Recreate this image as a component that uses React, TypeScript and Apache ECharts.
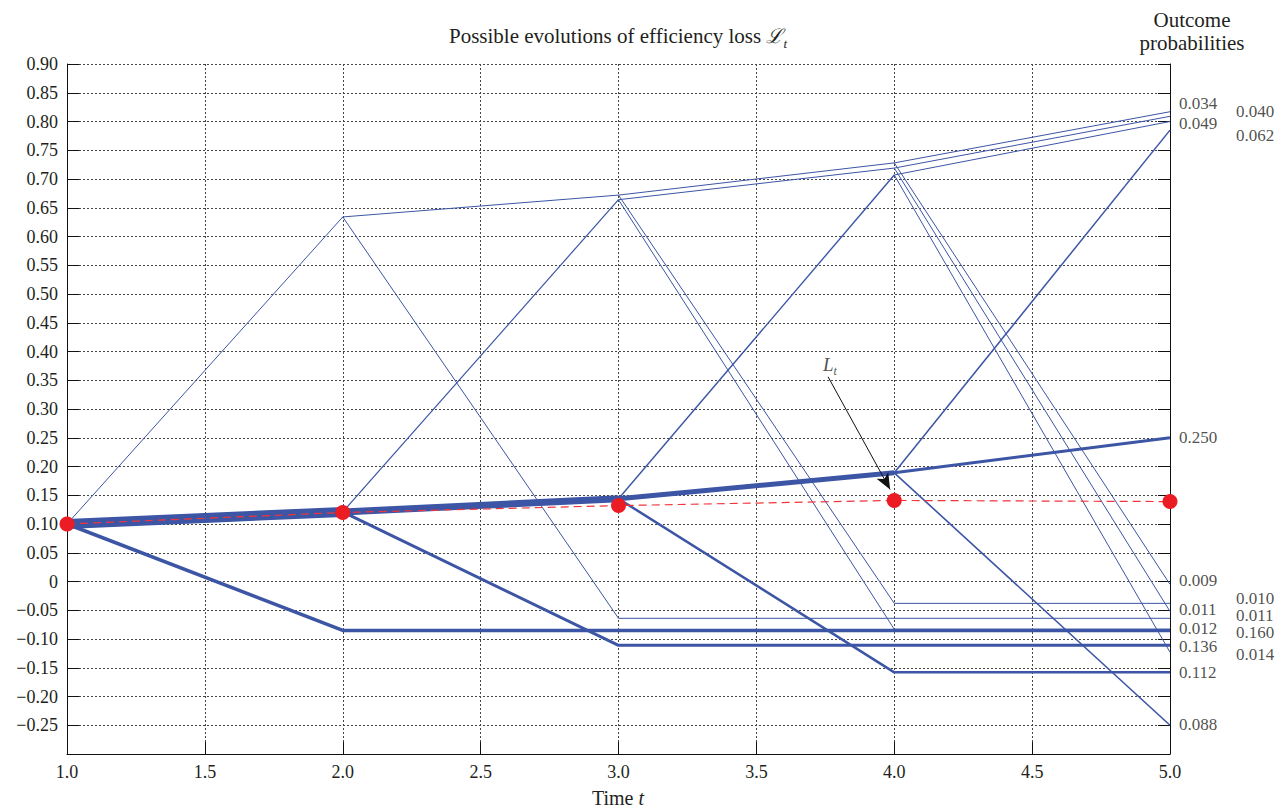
import React, { useEffect, useRef } from 'react';
import * as echarts from 'echarts';

// ---------- data ----------
const times = [1, 2, 3, 4, 5];
// central (most likely) path of the efficiency loss, t = 1..5
const midPath = [0.100, 0.121, 0.144, 0.189, 0.250];
// high nodes reached at each time (index = t-1); last one is the fresh jump from the central path
const highNodes: number[][] = [[], [0.634], [0.672, 0.664], [0.728, 0.719, 0.707], [0.817, 0.809, 0.800, 0.785]];
// values after a crash from the high nodes of the previous step (index = t-1), then flat
const crashNodes: number[][] = [[], [], [-0.064], [-0.038, -0.083], [-0.005, -0.052, -0.123]];
// values after a drop from the central path, t = 2..5, then flat
const downNodes = [-0.085, -0.111, -0.158, -0.250];
// expected efficiency loss L_t
const expectedLoss = [0.100, 0.120, 0.132, 0.141, 0.139];
// outcome probabilities (labels at t = 5)
const probLabelsLeft = ['0.034', '0.049', '0.250', '0.009', '0.011', '0.012', '0.136', '0.112', '0.088'];
const probLabelYLeft = [0.832, 0.797, 0.250, 0.002, -0.049, -0.081, -0.113, -0.158, -0.248];
const probLabelsRight = ['0.040', '0.062', '0.010', '0.011', '0.160', '0.014'];
const probLabelYRight = [0.817, 0.775, -0.029, -0.059, -0.089, -0.127];

// ---------- styles ----------
const BLUE = '#3c55a5';
const TEXT = '#231f20';
const FONT = 'Liberation Serif';
const midWidths = [10, 7, 5, 3];
const downWidths = [3.5, 3, 2.5, 1.6];
const upWidths = [1, 1.2, 1.4, 1.5];

function lineSeries(data: number[][], width: number) {
  return {
    type: 'line',
    data,
    symbol: 'none',
    silent: true,
    lineStyle: { color: BLUE, width, cap: 'butt', join: 'bevel' },
    z: 2,
  };
}

function buildTree() {
  const series: any[] = [];
  for (let k = 1; k < times.length; k++) {
    const t0 = times[k - 1];
    const t1 = times[k];
    const last = times[times.length - 1];
    // ridges continuing up + crashes
    highNodes[k - 1].forEach((h, i) => {
      series.push(lineSeries([[t0, h], [t1, highNodes[k][i]]], 1));
      const c = crashNodes[k][i];
      const pts = [[t0, h], [t1, c]];
      if (t1 < last) pts.push([last, c]);
      series.push(lineSeries(pts, 1));
    });
    // jump up from central path
    const hk = highNodes[k];
    series.push(lineSeries([[t0, midPath[k - 1]], [t1, hk[hk.length - 1]]], upWidths[k - 1]));
    // drop from central path
    const d = downNodes[k - 1];
    const dp = [[t0, midPath[k - 1]], [t1, d]];
    if (t1 < last) dp.push([last, d]);
    series.push(lineSeries(dp, downWidths[k - 1]));
    // central path
    series.push(lineSeries([[t0, midPath[k - 1]], [t1, midPath[k]]], midWidths[k - 1]));
  }
  return series;
}

function probSeries(labels: string[], ys: number[], distance: number) {
  return {
    type: 'scatter',
    silent: true,
    symbolSize: 0,
    data: ys.map((y, i) => ({ value: [5, y], label: { formatter: labels[i] } })),
    label: {
      show: true,
      position: 'right',
      distance,
      color: TEXT,
      fontFamily: FONT,
      fontSize: 17,
      lineHeight: 14,
    },
    z: 5,
  };
}

export default function App() {
  const ref = useRef<HTMLDivElement>(null);
  useEffect(() => {
    if (!ref.current) return;
    const chart = echarts.init(ref.current, undefined, { renderer: 'svg' });
    const axisCommon = {
      type: 'value',
      axisLine: { show: true, onZero: false, lineStyle: { color: '#111', width: 1 } },
      axisTick: { show: true, inside: true, length: 12, lineStyle: { color: '#111', width: 1 } },
    };
    chart.setOption({
      animation: false,
      backgroundColor: '#ffffff',
      grid: { left: 67, right: 118, top: 64, bottom: 55 },
      xAxis: {
        ...axisCommon,
        min: 1,
        max: 5,
        interval: 0.5,
        axisLabel: {
          color: TEXT,
          fontFamily: FONT,
          fontSize: 18,
          margin: 9,
          formatter: (v: number) => v.toFixed(1),
        },
        splitLine: { show: true, lineStyle: { color: '#444', width: 1, type: [2, 2] } },
      },
      yAxis: [
        {
          ...axisCommon,
          min: -0.3,
          max: 0.9,
          interval: 0.05,
          axisLabel: {
            color: TEXT,
            fontFamily: FONT,
            fontSize: 18,
            margin: 9,
            showMinLabel: false,
            formatter: (v: number) => {
              if (Math.abs(v) < 1e-9) return '0';
              const s = Math.abs(v).toFixed(2);
              return v < 0 ? '\u2212' + s : s;
            },
          },
          splitLine: { show: true, lineStyle: { color: '#444', width: 1, type: [2, 2] } },
        },
        {
          ...axisCommon,
          position: 'right',
          min: -0.3,
          max: 0.9,
          interval: 0.05,
          axisLabel: { show: false },
          splitLine: { show: false },
        },
      ],
      graphic: [
        {
          type: 'text',
          x: 618,
          y: 36,
          style: {
            text: '{a|Possible evolutions of efficiency loss }{b|ℒ}{c|t}',
            align: 'center',
            verticalAlign: 'middle',
            fill: TEXT,
            rich: {
              a: { fontFamily: FONT, fontSize: 21, lineHeight: 28, fill: TEXT },
              b: { fontFamily: 'DejaVu Serif', fontStyle: 'italic', fontSize: 20, lineHeight: 28, fill: TEXT },
              c: { fontFamily: FONT, fontStyle: 'italic', fontSize: 13, lineHeight: 13, verticalAlign: 'bottom', fill: TEXT },
            },
          },
        },
        {
          type: 'text',
          x: 1192,
          y: 31,
          style: {
            text: 'Outcome\nprobabilities',
            align: 'center',
            verticalAlign: 'middle',
            fill: TEXT,
            fontFamily: FONT,
            fontSize: 21,
            lineHeight: 23,
          },
        },
        {
          type: 'text',
          x: 618,
          y: 798,
          style: {
            text: '{a|Time }{b|t}',
            align: 'center',
            verticalAlign: 'middle',
            rich: {
              a: { fontFamily: FONT, fontSize: 20, fill: TEXT },
              b: { fontFamily: FONT, fontStyle: 'italic', fontSize: 20, fill: TEXT },
            },
          },
        },
      ],
      series: [
        ...buildTree(),
        probSeries(probLabelsLeft, probLabelYLeft, 9),
        probSeries(probLabelsRight, probLabelYRight, 66),
        {
          type: 'scatter',
          silent: true,
          symbolSize: 0,
          data: [[3.767, 0.377]],
          label: {
            show: true,
            position: 'inside',
            formatter: '{L|L}{t|t}',
            rich: {
              L: { fontFamily: FONT, fontStyle: 'italic', fontSize: 19, lineHeight: 24, color: TEXT },
              t: { fontFamily: FONT, fontStyle: 'italic', fontSize: 12, lineHeight: 12, verticalAlign: 'bottom', color: TEXT },
            },
          },
          z: 6,
        },
        {
          type: 'line',
          data: times.map((t, i) => [t, expectedLoss[i]]),
          symbol: 'circle',
          symbolSize: 15,
          showSymbol: true,
          clip: false,
          silent: true,
          itemStyle: { color: '#ec1c24' },
          lineStyle: { color: '#f0363d', width: 1.2, type: [8, 5] },
          z: 10,
          markLine: {
            silent: true,
            symbol: ['none', 'arrow'],
            symbolSize: [10, 16],
            label: { show: false },
            lineStyle: { color: '#111', width: 1, type: 'solid' },
            data: [[{ coord: [3.76, 0.356] }, { coord: [3.985, 0.16] }]],
            z: 9,
          },
        },
      ],
    });
    return () => chart.dispose();
  }, []);
  return <div ref={ref} style={{ position: 'absolute', left: 0, top: 0, width: 1288, height: 809 }} />;
}
